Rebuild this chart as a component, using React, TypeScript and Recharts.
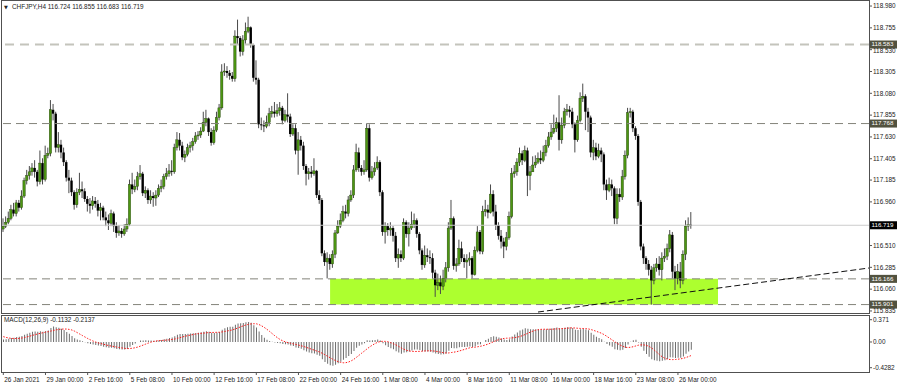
import React from "react";
import { ComposedChart, Bar, Line, XAxis, YAxis, ReferenceLine, ReferenceArea } from "recharts";

// ── CHFJPY H4 bars, 26 Jan 2021 08:00 → 26 Mar 2021 20:00 ──
const firstOpen = 116.68;

const closes = [
  116.71, 116.75, 116.79, 116.88, 116.84, 116.95, 116.9, 117.02, 117.18, 117.23,
  117.27, 117.31, 117.27, 117.17, 117.36, 117.19, 117.44, 117.46, 117.91, 117.87,
  117.52, 117.55, 117.47, 117.37, 117.21, 117.18, 117.06, 116.93, 117.06, 117.09,
  117.07, 116.99, 116.94, 116.92, 116.97, 116.94, 116.87, 116.9, 116.8, 116.77,
  116.74, 116.84, 116.71, 116.64, 116.66, 116.63, 116.68, 116.73, 117.14, 117.09,
  117.12, 117.22, 117.25, 117.05, 117.08, 116.98, 117.02, 117.0, 117.03, 117.1,
  117.12, 117.22, 117.25, 117.28, 117.27, 117.52, 117.6, 117.54, 117.42, 117.45,
  117.52, 117.54, 117.58, 117.64, 117.65, 117.69, 117.78, 117.82, 117.68, 117.57,
  117.7, 117.83, 117.93, 118.3, 118.31, 118.29, 118.26, 118.23, 118.67, 118.65,
  118.51, 118.63, 118.72, 118.76, 118.58, 118.24, 118.22, 117.76, 117.75, 117.74,
  117.78, 117.87, 117.89, 117.87, 117.9, 117.93, 117.8, 117.86, 117.84, 117.66,
  117.72, 117.49, 117.6, 117.54, 117.33, 117.25, 117.27, 117.25, 117.28, 117.03,
  116.98, 116.43, 116.34, 116.38, 116.32, 116.42, 116.64, 116.71, 116.77, 116.86,
  116.84, 116.98, 117.03, 117.29, 117.47, 117.31, 117.27, 117.29, 117.72, 117.21,
  117.27, 117.31, 117.37, 117.06, 116.65, 116.71, 116.67, 116.69, 116.61, 116.38,
  116.42, 116.38, 116.75, 116.63, 116.69, 116.73, 116.77, 116.63, 116.46, 116.31,
  116.41, 116.39, 116.38, 116.23, 116.1, 116.13, 116.09, 116.17, 116.28, 116.69,
  116.79, 116.3, 116.32, 116.48, 116.38, 116.34, 116.36, 116.38, 116.21, 116.46,
  116.65, 116.45, 116.86, 116.88, 116.85, 117.04, 116.86, 116.72, 116.61, 116.55,
  116.5, 116.59, 116.81, 117.25, 117.27, 117.37, 117.46, 117.39, 117.49, 117.23,
  117.27, 117.34, 117.37, 117.41, 117.39, 117.47, 117.54, 117.63, 117.68, 117.72,
  117.78, 117.6, 117.75, 117.89, 117.91, 117.89, 117.76, 117.6, 117.8, 118.03,
  118.05, 117.89, 117.83, 117.47, 117.52, 117.43, 117.49, 117.45, 117.14, 117.08,
  117.14, 117.1, 116.79, 117.04, 117.01, 117.22, 117.44, 117.88, 117.89, 117.72,
  117.64, 116.96, 116.5, 116.38, 116.32, 116.26, 116.15, 116.28, 116.32, 116.26,
  116.38, 116.4, 116.48, 116.62, 116.24, 116.17, 116.24, 116.15, 116.42, 116.71,
  116.724, 116.719,
];

const highs = [
  116.79, 116.81, 116.86, 116.93, 116.95, 116.98, 116.98, 117.08, 117.21, 117.29,
  117.33, 117.36, 117.39, 117.29, 117.49, 117.41, 117.54, 117.52, 118.01, 117.97,
  117.89, 117.68, 117.6, 117.52, 117.39, 117.29, 117.21, 117.08, 117.1, 117.26,
  117.17, 117.1, 117.02, 117.0, 117.02, 117.01, 116.98, 116.95, 116.92, 116.86,
  116.83, 116.88, 116.86, 116.75, 116.72, 116.69, 116.73, 116.79, 117.19, 117.26,
  117.19, 117.27, 117.34, 117.27, 117.12, 117.1, 117.08, 117.06, 117.08, 117.14,
  117.19, 117.25, 117.31, 117.35, 117.39, 117.56, 117.68, 117.67, 117.58, 117.49,
  117.56, 117.58, 117.62, 117.68, 117.69, 117.73, 117.89, 117.91, 117.83, 117.72,
  117.74, 117.89, 117.97, 118.38, 118.39, 118.36, 118.32, 118.3, 118.73, 118.84,
  118.67, 118.68, 118.81, 118.87, 118.77, 118.59, 118.42, 118.24, 117.83, 117.8,
  117.85, 117.93, 117.95, 117.99, 117.97, 117.99, 117.95, 117.91, 118.08, 117.87,
  117.76, 117.76, 117.68, 117.64, 117.58, 117.35, 117.31, 117.33, 117.41, 117.29,
  117.08, 117.0, 116.46, 116.44, 116.42, 116.46, 116.67, 116.77, 116.84, 116.92,
  116.93, 117.02, 117.08, 117.34, 117.56, 117.52, 117.34, 117.39, 117.77, 117.76,
  117.33, 117.37, 117.43, 117.39, 117.08, 116.75, 116.74, 116.75, 116.71, 116.65,
  116.48, 116.46, 116.79, 116.77, 116.75, 116.86, 116.84, 116.79, 116.65, 116.48,
  116.51, 116.48, 116.46, 116.43, 116.26, 116.22, 116.2, 116.26, 116.34, 116.75,
  116.98, 116.81, 116.38, 116.57, 116.55, 116.42, 116.42, 116.44, 116.4, 116.5,
  116.71, 116.67, 116.92, 116.98, 116.93, 117.14, 117.08, 116.93, 116.75, 116.67,
  116.59, 116.65, 116.86, 117.31, 117.34, 117.41, 117.52, 117.49, 117.54, 117.52,
  117.33, 117.43, 117.44, 117.47, 117.49, 117.54, 117.6, 117.68, 117.76, 117.86,
  117.83, 118.06, 117.83, 117.93, 117.97, 117.95, 117.93, 117.78, 117.85, 118.09,
  118.18, 118.07, 117.93, 117.85, 117.6, 117.57, 117.56, 117.52, 117.47, 117.19,
  117.21, 117.19, 117.12, 117.1, 117.1, 117.29, 117.49, 117.93, 117.93, 117.91,
  117.74, 117.66, 116.98, 116.53, 116.4, 116.36, 116.3, 116.32, 116.38, 116.4,
  116.44, 116.48, 116.53, 116.67, 116.65, 116.3, 116.32, 116.34, 116.46, 116.77,
  116.8, 116.855,
];

const lows = [
  116.65, 116.69, 116.73, 116.77, 116.81, 116.81, 116.86, 116.88, 117.0, 117.14,
  117.19, 117.23, 117.21, 117.12, 117.14, 117.14, 117.17, 117.41, 117.43, 117.8,
  117.47, 117.47, 117.41, 117.33, 117.17, 117.05, 117.02, 116.88, 116.9, 117.03,
  117.0, 116.96, 116.86, 116.84, 116.88, 116.9, 116.81, 116.77, 116.77, 116.71,
  116.67, 116.71, 116.65, 116.59, 116.61, 116.59, 116.61, 116.65, 116.71, 117.04,
  117.06, 117.08, 117.19, 117.02, 117.0, 116.94, 116.94, 116.91, 116.92, 117.01,
  117.06, 117.09, 117.19, 117.22, 117.23, 117.25, 117.49, 117.49, 117.39, 117.37,
  117.43, 117.47, 117.49, 117.56, 117.6, 117.62, 117.68, 117.74, 117.64, 117.54,
  117.55, 117.68, 117.8, 117.91, 118.26, 118.24, 118.22, 118.2, 118.2, 118.58,
  118.46, 118.47, 118.59, 118.7, 118.55, 118.2, 118.17, 117.72, 117.7, 117.68,
  117.72, 117.74, 117.83, 117.83, 117.84, 117.85, 117.76, 117.78, 117.78, 117.63,
  117.64, 117.45, 117.24, 117.49, 117.29, 117.13, 117.19, 117.21, 117.23, 117.0,
  116.94, 116.4, 116.3, 116.17, 116.26, 116.28, 116.38, 116.63, 116.69, 116.75,
  116.79, 116.81, 116.96, 117.0, 117.27, 117.27, 117.23, 117.24, 117.27, 117.17,
  117.19, 117.23, 117.29, 117.02, 116.61, 116.53, 116.61, 116.61, 116.55, 116.34,
  116.28, 116.34, 116.36, 116.59, 116.5, 116.67, 116.69, 116.59, 116.42, 116.26,
  116.28, 116.34, 116.32, 116.17, 115.98, 116.05, 116.01, 116.05, 116.13, 116.24,
  116.67, 116.26, 116.24, 116.3, 116.34, 116.28, 116.17, 116.3, 116.17, 116.2,
  116.44, 116.42, 116.42, 116.81, 116.79, 116.84, 116.81, 116.67, 116.57, 116.48,
  116.38, 116.46, 116.57, 116.79, 117.21, 117.23, 117.33, 117.34, 117.37, 117.02,
  117.08, 117.27, 117.31, 117.35, 117.35, 117.37, 117.43, 117.52, 117.6, 117.66,
  117.68, 117.49, 117.56, 117.72, 117.85, 117.83, 117.72, 117.47, 117.58, 117.78,
  117.99, 117.7, 117.68, 117.42, 117.39, 117.39, 117.41, 117.37, 117.08, 116.98,
  117.06, 117.02, 116.73, 116.73, 116.96, 116.98, 117.19, 117.41, 117.83, 117.68,
  117.6, 116.92, 116.46, 116.32, 116.26, 116.2, 115.9, 116.11, 116.24, 116.2,
  116.15, 116.34, 116.36, 116.44, 116.17, 116.05, 116.11, 116.07, 116.11, 116.36,
  116.66, 116.683,
];

// time labels, one every 16 bars
const timeLabels = [
  "26 Jan 2021", "29 Jan 00:00", "2 Feb 16:00", "5 Feb 08:00", "10 Feb 00:00",
  "12 Feb 16:00", "17 Feb 08:00", "22 Feb 00:00", "24 Feb 16:00", "1 Mar 08:00",
  "4 Mar 00:00", "8 Mar 16:00", "11 Mar 08:00", "16 Mar 00:00", "18 Mar 16:00",
  "23 Mar 08:00", "26 Mar 00:00",
];
const LABEL_STEP = 16;

const priceTicks = [
  118.98, 118.755, 118.53, 118.305, 118.08, 117.855, 117.63, 117.405, 117.185,
  116.96, 116.51, 116.285, 116.06, 115.835,
];
const macdTicks = [0.371, 0, -0.4282];
const macdTickText = ["0.371", "0.00", "-0.4282"];

// horizontal levels drawn on the chart
const upperLevel = 118.583;
const midLevel = 117.768;
const lastPrice = 116.719;
const zoneTop = 116.166;
const zoneBottom = 115.901;
const zoneFromBar = 124;
const zoneToBar = 271.2;
const trendFrom = { x: 202.9, y: 115.824 };
const trendTo = { x: 328.5, y: 116.278 };

// MACD(12,26,9) warm-up: EMA states and main values just before the window
const emaFastStart = 116.64;
const emaSlowStart = 116.6;
const macdWarmup = [0.16, 0.14, 0.12, 0.1, 0.08, 0.07, 0.05, 0.04];

// ── derived series ──
const opens = [firstOpen, ...closes.slice(0, -1)]; // FX bars open at prior close

function buildMacd() {
  const kf = 2 / 13;
  const ks = 2 / 27;
  let ef = emaFastStart;
  let es = emaSlowStart;
  const main = closes.map((c) => {
    ef += kf * (c - ef);
    es += ks * (c - es);
    return ef - es;
  });
  const all = [...macdWarmup, ...main];
  const signal = main.map((_, i) => {
    const win = all.slice(i, i + 9);
    return win.reduce((s, v) => s + v, 0) / win.length;
  });
  return { main, signal };
}
const macd = buildMacd();

const rows = closes.map((close, i) => ({
  i,
  open: opens[i],
  high: highs[i],
  low: lows[i],
  close,
  range: [lows[i], highs[i]],
  macd: macd.main[i],
  signal: macd.signal[i],
}));

const FONT = "'Liberation Sans', Arial, sans-serif";
const X_DOMAIN: [number, number] = [-0.5, 328.5];

// ── Candle shape ──
function Candle(props: any) {
  const { x, y, width, height, payload } = props;
  if (!payload || height == null) return null;
  const top = height < 0 ? y + height : y;
  const h = Math.abs(height);
  const span = payload.high - payload.low || 0.0001;
  const k = h / span;
  const cx = x + width / 2;
  const bTop = top + (payload.high - Math.max(payload.open, payload.close)) * k;
  const bBot = top + (payload.high - Math.min(payload.open, payload.close)) * k;
  const up = payload.close >= payload.open;
  return (
    <g>
      <line x1={cx} x2={cx} y1={top} y2={top + h} stroke="#4a4a4a" strokeWidth={1} />
      <rect
        x={cx - 1.2}
        y={bTop}
        width={2.4}
        height={Math.max(bBot - bTop, 1)}
        fill={up ? "#4c9612" : "#000"}
        stroke={up ? "#243f0a" : "none"}
        strokeWidth={0.4}
      />
    </g>
  );
}

// ── Price tag on the right scale ──
function PriceTag({ viewBox, text, bg }: { viewBox?: any; text: string; bg: string }) {
  if (!viewBox) return null;
  const x = viewBox.x + viewBox.width + 1;
  const y = viewBox.y;
  return (
    <g>
      <rect x={x} y={y - 4} width={27} height={8} fill={bg} />
      <text x={x + 1.5} y={y - 0.5} dy="0.35em" fontSize={6.2} fontFamily={FONT} fill="#fff">
        {text}
      </text>
    </g>
  );
}

function PriceTick({ x, y, payload }: any) {
  // the 118.530 label sits right under the 118.583 tag
  const shift = Math.abs(payload.value - 118.53) < 1e-6 ? 1.5 : 0;
  return (
    <text x={x} y={y + shift} dy="0.35em" fontSize={6.4} fontFamily={FONT} fill="#222" textAnchor="start">
      {payload.value.toFixed(3)}
    </text>
  );
}

function TimeTick({ x, y, payload }: any) {
  const idx = Math.round(payload.value / LABEL_STEP);
  return (
    <text x={x + 1} y={y} dy={6} fontSize={6.4} fontFamily={FONT} fill="#222" textAnchor="start">
      {timeLabels[idx]}
    </text>
  );
}

const tickStyle = { fontSize: 6.4, fill: "#222", fontFamily: FONT };

export default function App() {
  return (
    <div style={{ position: "absolute", left: 0, top: 0, width: 900, height: 387, background: "#fff", overflow: "hidden" }}>
      <div style={{ position: "absolute", left: 0, top: 0 }}>
        <ComposedChart width={900} height={314} data={rows} margin={{ top: 1, right: 0, bottom: 1, left: 2 }}>
          <XAxis type="number" dataKey="i" domain={X_DOMAIN} allowDataOverflow hide />
          <YAxis
            orientation="right"
            width={31}
            domain={[115.814, 119.032]}
            allowDataOverflow
            ticks={priceTicks}
            interval={0}
            axisLine={false}
            tickSize={3}
            tickMargin={1}
            tick={<PriceTick />}
            tickLine={{ stroke: "#555" }}
          />
          <ReferenceArea x1={zoneFromBar} x2={zoneToBar} y1={zoneBottom} y2={zoneTop} fill="#adff2f" fillOpacity={1} stroke="none" />
          <ReferenceLine y={upperLevel} stroke="#c4c4bc" strokeWidth={2} strokeDasharray="9 6" label={<PriceTag text="118.583" bg="#52523f" />} />
          <ReferenceLine y={midLevel} stroke="#84847a" strokeDasharray="8 5" label={<PriceTag text="117.768" bg="#52523f" />} />
          <ReferenceLine y={lastPrice} stroke="#cccccc" label={<PriceTag text="116.719" bg="#000" />} />
          <ReferenceLine y={zoneTop} stroke="#84847a" strokeDasharray="8 5" label={<PriceTag text="116.166" bg="#52523f" />} />
          <ReferenceLine y={zoneBottom} stroke="#84847a" strokeDasharray="8 5" label={<PriceTag text="115.901" bg="#52523f" />} />
          <Bar dataKey="range" barSize={2} shape={<Candle />} isAnimationActive={false} />
          <ReferenceLine segment={[trendFrom, trendTo]} stroke="#111" strokeDasharray="6 3" />
        </ComposedChart>
      </div>
      <div style={{ position: "absolute", left: 0, top: 314 }}>
        <ComposedChart width={900} height={73} data={rows} margin={{ top: 1, right: 0, bottom: 0, left: 2 }}>
          <XAxis
            type="number"
            dataKey="i"
            domain={X_DOMAIN}
            allowDataOverflow
            ticks={timeLabels.map((_, k) => k * LABEL_STEP)}
            interval={0}
            height={15}
            axisLine={false}
            tickSize={3}
            tickMargin={1}
            tick={<TimeTick />}
            tickLine={{ stroke: "#555" }}
          />
          <YAxis
            orientation="right"
            width={31}
            domain={[-0.4995, 0.4495]}
            allowDataOverflow
            ticks={macdTicks}
            interval={0}
            tickFormatter={(v: number) => macdTickText[macdTicks.indexOf(v)] ?? String(v)}
            axisLine={false}
            tickSize={3}
            tickMargin={1}
            tick={tickStyle}
            tickLine={{ stroke: "#555" }}
          />
          <Bar dataKey="macd" barSize={1} fill="#6e6e6e" isAnimationActive={false} />
          <Line dataKey="signal" type="linear" stroke="#ff1a1a" strokeWidth={1} strokeDasharray="1.5 1.5" dot={false} isAnimationActive={false} />
        </ComposedChart>
      </div>
      {/* panel frames */}
      <div style={{ position: "absolute", left: 1, top: 0, width: 869, height: 314, border: "1px solid #505050", boxSizing: "border-box", pointerEvents: "none" }} />
      <div style={{ position: "absolute", left: 1, top: 315, width: 869, height: 58, border: "1px solid #505050", boxSizing: "border-box", pointerEvents: "none" }} />
      {/* titles */}
      <div style={{ position: "absolute", left: 4, top: 4, fontFamily: "'DejaVu Sans', sans-serif", fontSize: 5, lineHeight: "6px", color: "#222" }}>▼</div>
      <div style={{ position: "absolute", left: 12, top: 3, fontFamily: FONT, fontSize: 6.4, lineHeight: "8px", color: "#222", whiteSpace: "nowrap" }}>
        CHFJPY,H4 116.724 116.855 116.683 116.719
      </div>
      <div style={{ position: "absolute", left: 4, top: 316, fontFamily: FONT, fontSize: 6.4, lineHeight: "8px", color: "#222", whiteSpace: "nowrap" }}>
        MACD(12,26,9) -0.1132 -0.2137
      </div>
    </div>
  );
}
